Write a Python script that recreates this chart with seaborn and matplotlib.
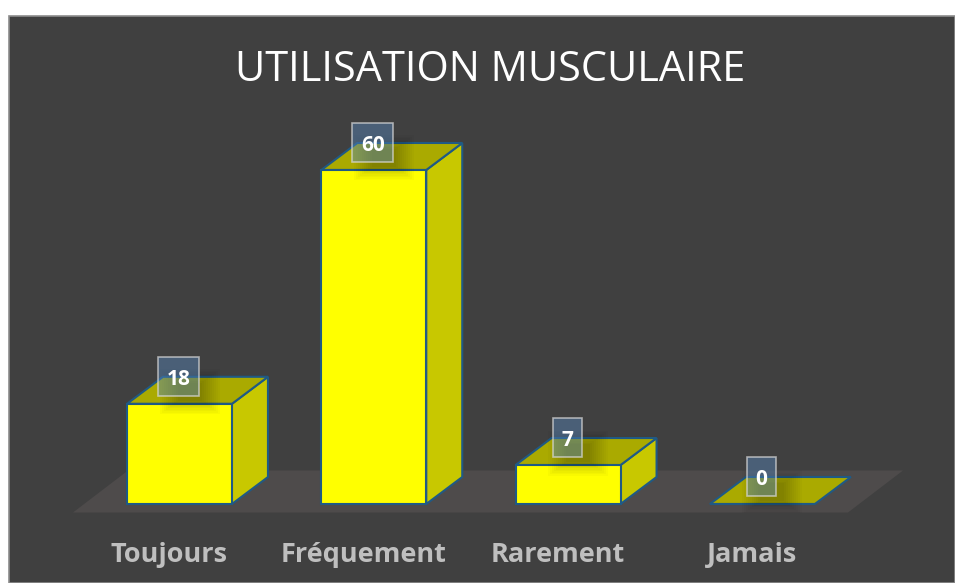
import matplotlib
matplotlib.use('Agg')
import matplotlib.pyplot as plt
from matplotlib.patches import Polygon, Rectangle
from matplotlib.transforms import ScaledTranslation
import seaborn as sns

categories = ['Toujours', 'Fréquement', 'Rarement', 'Jamais']
values = [18, 60, 7, 0]
title = 'UTILISATION MUSCULAIRE'

W, H = 955, 583
PANEL = '#404040'
FLOOR = '#4e4b4b'
FRONT = '#ffff00'
SIDE = '#c8c800'
TOP = '#aaaa00'
EDGE = '#1f5a85'

sns.set_theme(style='white')
plt.rcParams['font.family'] = ['Open Sans', 'DejaVu Sans']

fig = plt.figure(figsize=(W / 100, H / 100), dpi=100, facecolor='white')

# dark panel with its lighter border
fig.add_artist(Rectangle((9 / W, 0), (W - 9) / W, (H - 16) / H, transform=fig.transFigure,
                         facecolor=PANEL, edgecolor='#8c8c8c', linewidth=1.2, zorder=-1))

# axes run from the panel's left edge to the floor's front edge
ax = fig.add_axes([9 / W, (H - 513) / H, (W - 9) / W, (513 - 16) / H])
ax.patch.set_alpha(0)

sns.barplot(x=categories, y=values, color=FRONT, saturation=1, width=0.54,
            edgecolor=EDGE, linewidth=1.5, ax=ax, zorder=4)

px_x = 194.3        # pixels per category
px_y = 5.567        # pixels per value unit
ax.set_xlim((9 - 179.5) / px_x, (W - 179.5) / px_x)
ax.set_ylim(-9 / px_y, (504 - 16) / px_y)

dx = 36 / px_x      # depth of the 3D effect
dy = 27 / px_y

# floor
fl, fr = (73 - 179.5) / px_x, (848 - 179.5) / px_x
floor_y0, floor_dy = -8.5 / px_y, 42 / px_y
ax.add_patch(Polygon([(fl, floor_y0), (fr, floor_y0), (fr + 55 / px_x, floor_y0 + floor_dy),
                      (fl + 55 / px_x, floor_y0 + floor_dy)],
                     closed=True, facecolor=FLOOR, edgecolor='none', zorder=1))

# side and top faces from the bars
for bar, v in zip(ax.patches[:len(values)], values):
    x0 = bar.get_x()
    x1 = x0 + bar.get_width()
    if v > 0:
        ax.add_patch(Polygon([(x1, 0), (x1 + dx, dy), (x1 + dx, v + dy), (x1, v)], closed=True,
                             facecolor=SIDE, edgecolor=EDGE, linewidth=1.5, zorder=3))
    ax.add_patch(Polygon([(x0, v), (x1, v), (x1 + dx, v + dy), (x0 + dx, v + dy)], closed=True,
                         facecolor=TOP, edgecolor=EDGE, linewidth=1.5, zorder=3))

# soft shadow under each value label, then the label box and text
for i, v in enumerate(values):
    for step in range(10):
        w = (24 + 4 * step) / px_x
        h = (18 + 3 * step) / px_y
        cx = i + 10 / px_x
        cy = v + 12 / px_y
        ax.add_patch(Rectangle((cx - w / 2, cy - h / 2), w, h, facecolor='black',
                               edgecolor='none', alpha=0.025, zorder=5))
    box_w = (17 + 12 * len(str(v))) / px_x
    ax.add_patch(Rectangle((i - 1 / px_x - box_w / 2, v + 8 / px_y), box_w, 39 / px_y,
                           facecolor=(87 / 255, 136 / 255, 191 / 255, 0.44),
                           edgecolor=(0.85, 0.85, 0.85, 0.7), linewidth=1.2, zorder=6))
    ax.annotate(str(v), (i, v), xytext=(-0.7, 17.5), textcoords='offset points',
                ha='center', va='center', color='white', fontsize=15, fontweight='bold', zorder=7)

# axis styling
ax.set_yticks([])
ax.set_xlabel('')
ax.set_ylabel('')
sns.despine(ax=ax, left=True, bottom=True, top=True, right=True)
ax.tick_params(axis='x', length=0, pad=21, colors='#bfbfbf', labelsize=19.5)
shift = ScaledTranslation(-10.5 / 100, 0, fig.dpi_scale_trans)
for lab in ax.get_xticklabels():
    lab.set_fontweight('bold')
    lab.set_transform(lab.get_transform() + shift)

fig.text(490 / W, 1 - 70 / H, title, ha='center', va='center', color='white', fontsize=29.9)

fig.savefig('out.png', dpi=100)
